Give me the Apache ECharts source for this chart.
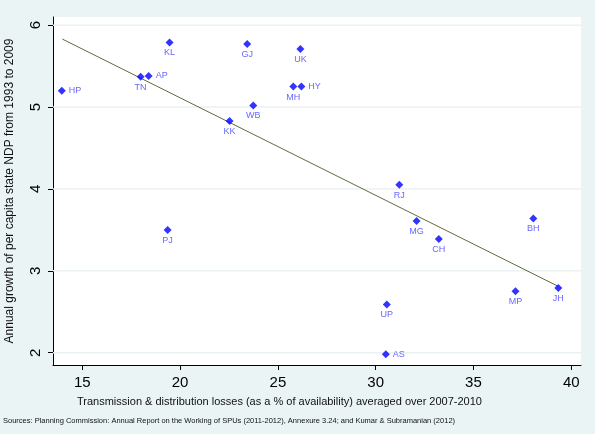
<!DOCTYPE html>
<html>
<head>
<meta charset="utf-8">
<script src="https://cdn.jsdelivr.net/npm/echarts@6/dist/echarts.min.js"></script>
<style>
  html, body { margin: 0; padding: 0; background: #eaf4f5; }
  #main { width: 595px; height: 434px; }
</style>
</head>
<body>
<div id="main"></div>
<script>
// states and their values
var states = ['HP', 'TN', 'AP', 'KL', 'GJ', 'UK', 'MH', 'HY', 'WB', 'KK', 'PJ', 'RJ', 'MG', 'CH', 'BH', 'JH', 'MP', 'UP', 'AS'];
var tdLosses = [13.95, 17.98, 18.39, 19.46, 23.43, 26.15, 25.79, 26.2, 23.74, 22.53, 19.36, 31.21, 32.09, 33.23, 38.06, 39.34, 37.15, 30.57, 30.52];
var growth = [5.2, 5.37, 5.38, 5.79, 5.77, 5.71, 5.25, 5.25, 5.02, 4.83, 3.5, 4.05, 3.61, 3.39, 3.64, 2.79, 2.75, 2.59, 1.98];

// fitted line end points
var fitX = [13.98, 39.34];
var fitY = [5.83, 2.81];

var xTicks = [15, 20, 25, 30, 35, 40];
var yTicks = [2, 3, 4, 5, 6];
var xMin = 13.5, xMax = 40.5;

// these ones have the label on the right, the rest below
var rightLabeled = ['HP', 'AP', 'HY', 'AS'];

var xTitle = 'Transmission & distribution losses (as a % of availability) averaged over 2007-2010';
var yTitle = 'Annual growth of per capita state NDP from 1993 to 2009';
var sourceNote = 'Sources: Planning Commission: Annual Report on the Working of SPUs (2011-2012), Annexure 3.24; and Kumar & Subramanian (2012)';

var font = '"Liberation Sans", Arial, sans-serif';

var pts = states.map(function (s, i) {
    var right = rightLabeled.indexOf(s) >= 0;
    return {
        name: s,
        value: [tdLosses[i], growth[i]],
        label: right ? { position: 'right', distance: 3 } : { position: 'bottom', distance: 2 }
    };
});

// horizontal grid lines, one little line series per y tick
var gridSeries = yTicks.map(function (v) {
    return {
        type: 'line',
        data: [[xMin, v], [xMax, v]],
        symbol: 'none',
        silent: true,
        lineStyle: { color: '#eaf2f3', width: 1.5 },
        z: 1
    };
});

var myChart = echarts.init(document.getElementById('main'));

var option = {
    animation: false,
    backgroundColor: '#eaf4f5',
    grid: { left: 53, top: 17, right: 14, bottom: 69, show: true, backgroundColor: '#ffffff', borderWidth: 0 },
    xAxis: {
        type: 'value',
        min: xMin,
        max: xMax,
        axisLine: { show: true, lineStyle: { color: '#000', width: 1 } },
        axisTick: { show: true, length: 5, lineStyle: { color: '#000' }, customValues: xTicks },
        axisLabel: { customValues: xTicks, color: '#000', fontSize: 15, fontFamily: font, margin: 10 },
        splitLine: { show: false }
    },
    yAxis: {
        type: 'value',
        min: 1.85,
        max: 6.1,
        axisLine: { show: true, lineStyle: { color: '#000', width: 1 } },
        axisTick: { show: true, length: 5, lineStyle: { color: '#000' }, customValues: yTicks },
        axisLabel: { customValues: yTicks, color: '#000', fontSize: 15, fontFamily: font, rotate: 90, margin: 10 },
        splitLine: { show: false }
    },
    graphic: [
        { type: 'text', left: 77, top: 396, style: { text: xTitle, font: '11px ' + font, fill: '#111' } },
        { type: 'text', x: 10, y: 191, rotation: Math.PI / 2, style: { text: yTitle, font: '12px ' + font, fill: '#111', align: 'center', verticalAlign: 'middle' } },
        { type: 'text', left: 3, top: 417, style: { text: sourceNote, font: '7.5px ' + font, fill: '#111' } }
    ],
    series: gridSeries.concat([
        {
            type: 'line',
            data: fitX.map(function (x, i) { return [x, fitY[i]]; }),
            symbol: 'none',
            lineStyle: { color: '#5f6b3c', width: 1 },
            z: 2
        },
        {
            type: 'scatter',
            data: pts,
            symbol: 'diamond',
            symbolSize: 8,
            itemStyle: { color: '#0000ff' },
            label: {
                show: true,
                formatter: '{b}',
                color: '#4040ff',
                fontSize: 9,
                fontFamily: font
            },
            z: 3
        }
    ])
};

myChart.setOption(option);
</script>
</body>
</html>
